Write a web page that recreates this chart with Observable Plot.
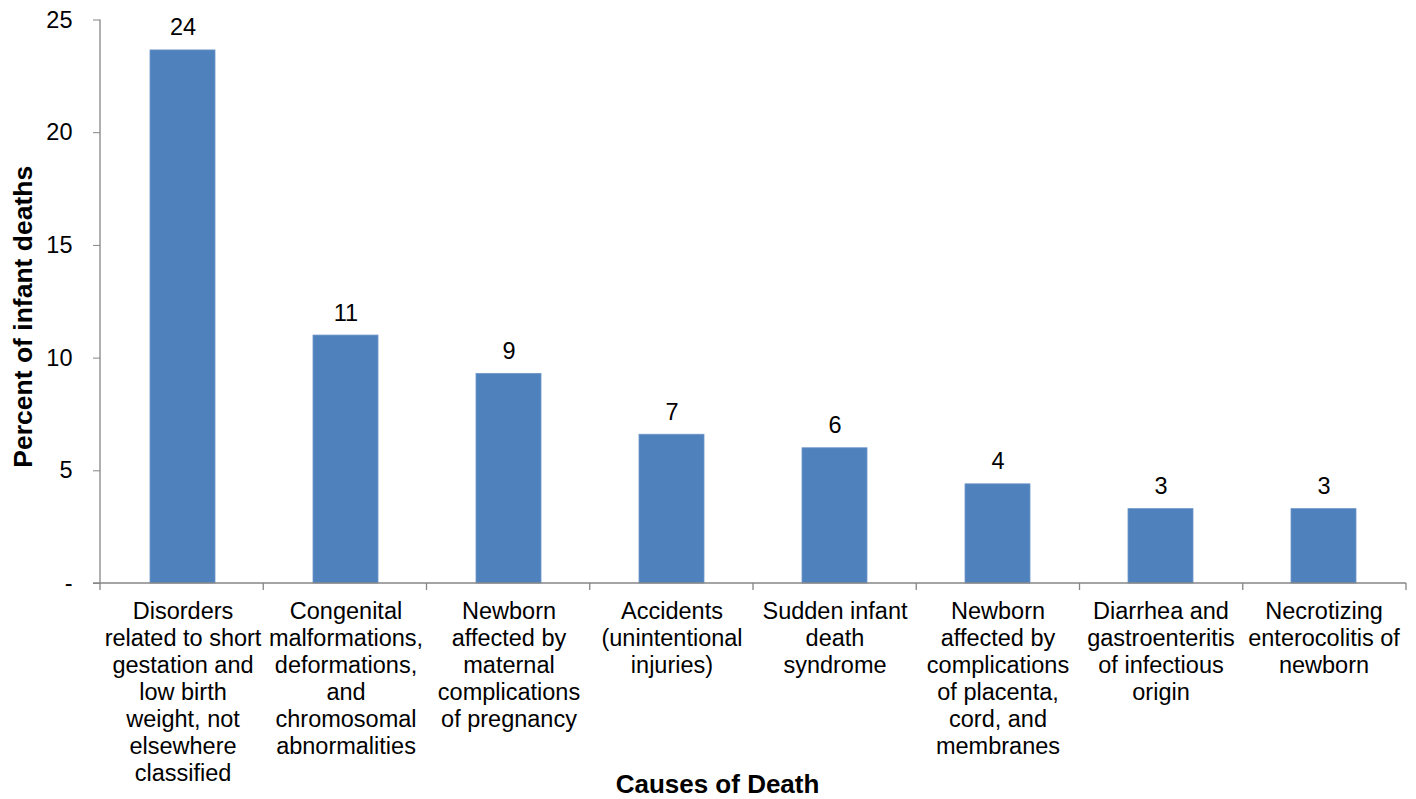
<!DOCTYPE html>
<html>
<head>
<meta charset="utf-8">
<script src="https://cdn.jsdelivr.net/npm/d3@7"></script>
<script src="https://cdn.jsdelivr.net/npm/@observablehq/plot@0.6"></script>
<style>
  html, body { margin: 0; padding: 0; background: #fff; }
  #chart svg { display: block; font-family: "Liberation Sans", Arial, sans-serif; }
</style>
</head>
<body>
<div id="chart"></div>
<script>
const causes = [
  "Disorders\nrelated to short\ngestation and\nlow birth\nweight, not\nelsewhere\nclassified",
  "Congenital\nmalformations,\ndeformations,\nand\nchromosomal\nabnormalities",
  "Newborn\naffected by\nmaternal\ncomplications\nof pregnancy",
  "Accidents\n(unintentional\ninjuries)",
  "Sudden infant\ndeath\nsyndrome",
  "Newborn\naffected by\ncomplications\nof placenta,\ncord, and\nmembranes",
  "Diarrhea and\ngastroenteritis\nof infectious\norigin",
  "Necrotizing\nenterocolitis of\nnewborn"
];
const percents = [23.65, 11.0, 9.3, 6.6, 6.0, 4.4, 3.3, 3.3];
const yTicks = [0, 5, 10, 15, 20, 25];
const yTitle = "Percent of infant deaths";
const xTitle = "Causes of Death";

const data = causes.map((c, i) => ({cause: c, value: percents[i]}));

const AXIS = "#868686";
const BAR = "#4F81BD";

function axisLines(index, scales, values, dimensions) {
  const {y} = scales;
  const {width, marginLeft, marginRight} = dimensions;
  const left = marginLeft, right = width - marginRight;
  const y0 = y(0);
  const g = d3.create("svg:g").attr("stroke", AXIS).attr("stroke-width", 1.3).attr("fill", "none");
  g.append("line").attr("x1", left).attr("x2", left).attr("y1", y(25)).attr("y2", y0);
  g.append("line").attr("x1", left - 7).attr("x2", right).attr("y1", y0).attr("y2", y0);
  const n = causes.length;
  for (let k = 0; k <= n; ++k) {
    const xb = left + k * (right - left) / n;
    g.append("line").attr("x1", xb).attr("x2", xb).attr("y1", y0).attr("y2", y0 + 7);
  }
  return g.node();
}

const chart = Plot.plot({
  width: 1416,
  height: 799,
  marginLeft: 100,
  marginRight: 10,
  marginTop: 19.5,
  marginBottom: 216,
  style: {fontFamily: "'Liberation Sans', Arial, sans-serif", background: "#fff"},
  x: {domain: causes, paddingInner: 0.6, paddingOuter: 0.3, axis: null},
  y: {domain: [0, 25], axis: null},
  marks: [
    Plot.barY(data, {x: "cause", y: "value", fill: BAR, stroke: "#6F97C9", strokeWidth: 0.8}),
    axisLines,
    Plot.axisY(yTicks, {
      tickSize: 7, tickPadding: 21, fontSize: 23.5, stroke: AXIS, fill: "black",
      tickFormat: d => d === 0 ? "-" : String(d), label: null
    }),
    Plot.text(data, {
      x: "cause", y: "value", text: d => d3.format(".0f")(d.value),
      lineAnchor: "bottom", dy: -15, fontSize: 23.5, fill: "black"
    }),
    Plot.text(causes, {
      x: d => d, text: d => d, frameAnchor: "bottom", lineAnchor: "top",
      dy: 16.5, fontSize: 23.5, lineHeight: 1.15, fill: "black"
    }),
    Plot.text([yTitle], {
      text: d => d, frameAnchor: "left", rotate: -90, dx: -77, dy: 15,
      fontSize: 26.5, fontWeight: "bold", fill: "black", textAnchor: "middle"
    }),
    Plot.text([xTitle], {
      text: d => d, frameAnchor: "bottom", lineAnchor: "top", dx: -36, dy: 191,
      fontSize: 26, fontWeight: "bold", fill: "black"
    })
  ]
});
document.getElementById("chart").append(chart);
</script>
</body>
</html>
